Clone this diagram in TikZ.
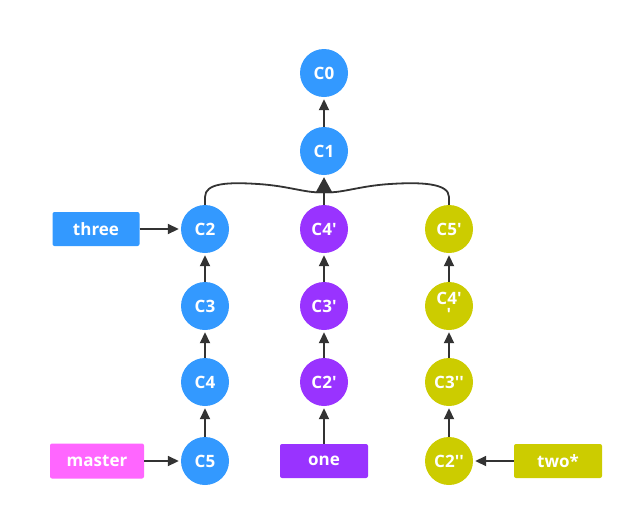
\documentclass[tikz,border=0pt]{standalone}
\usepackage{fontspec}
\setmainfont{Open Sans}
\usetikzlibrary{arrows.meta, positioning}
\definecolor{cblue}{HTML}{3399FF}
\definecolor{cpurple}{HTML}{9933FF}
\definecolor{colive}{HTML}{CCCC00}
\definecolor{cpink}{HTML}{FF66FF}
\definecolor{cline}{HTML}{333333}
\newcommand{\pq}{\textquotesingle}

\begin{document}
\begin{tikzpicture}[x=1pt,y=-1pt,
    commit/.style={circle,fill=#1,minimum size=48pt,inner sep=0pt,text=white,
        align=center,font=\fontsize{17}{16}\selectfont\bfseries},
    branch/.style={rectangle,rounded corners=2pt,fill=#1,minimum width=88pt,
        minimum height=34pt,text=white,font=\fontsize{17}{18}\selectfont\bfseries},
    link/.style={-{Triangle[length=11pt,width=10pt]},line width=1.8pt,draw=cline,shorten >=2pt},
    merge/.style={line width=1.8pt,draw=cline}]
    \useasboundingbox (0,0) rectangle (636,517);

    % main line
    \node[commit=cblue] (c0) at (324,73) {C0};
    \node[commit=cblue] (c1) at (324,151) {C1};
    \foreach \n/\y in {2/229,3/306,4/382,5/461}
        \node[commit=cblue] (c\n) at (205,\y) {C\n};

    % branch one
    \node[commit=cpurple] (c4p) at (324,229) {C4\pq};
    \node[commit=cpurple] (c3p) at (324,306) {C3\pq};
    \node[commit=cpurple] (c2p) at (324,382) {C2\pq};

    % branch two
    \node[commit=colive] (c5p) at (449,229) {C5\pq};
    \node[commit=colive] (c4pp) at (449,306) {C4\pq\\\pq};
    \node[commit=colive] (c3pp) at (449,382) {C3\pq\pq};
    \node[commit=colive] (c2pp) at (449,461) {C2\pq\pq};

    % branch labels
    \node[branch=cblue,minimum width=87pt] (three) at (96,229) {three};
    \node[branch=cpink,minimum width=94pt,minimum height=35pt] (master) at (97,461) {master};
    \node[branch=cpurple] (one) at (324,461) {one};
    \node[branch=colive] (two) at (558,461) {two*};

    \draw[link] (c1) -- (c0);
    \draw[link] (c3) -- (c2);
    \draw[link] (c4) -- (c3);
    \draw[link] (c5) -- (c4);
    \draw[link] (c3p) -- (c4p);
    \draw[link] (c2p) -- (c3p);
    \draw[link] (one) -- (c2p);
    \draw[link] (c4pp) -- (c5p);
    \draw[link] (c3pp) -- (c4pp);
    \draw[link] (c2pp) -- (c3pp);
    \draw[link] (three) -- (c2);
    \draw[link] (master) -- (c5);
    \draw[link] (two) -- (c2pp);

    % merge into C1
    \coordinate (join) at (324,192);
    \draw[merge] (c2.north) -- (205,197) .. controls (205,183) and (228,182) .. (258,184)
        .. controls (290,186) and (308,194) .. (join);
    \draw[merge] (c5p.north) -- (449,197) .. controls (449,183) and (420,182) .. (390,184)
        .. controls (358,186) and (340,194) .. (join);
    \draw[link,-{Triangle[length=16pt,width=17pt]}] (c4p) -- (c1);
\end{tikzpicture}
\end{document}
